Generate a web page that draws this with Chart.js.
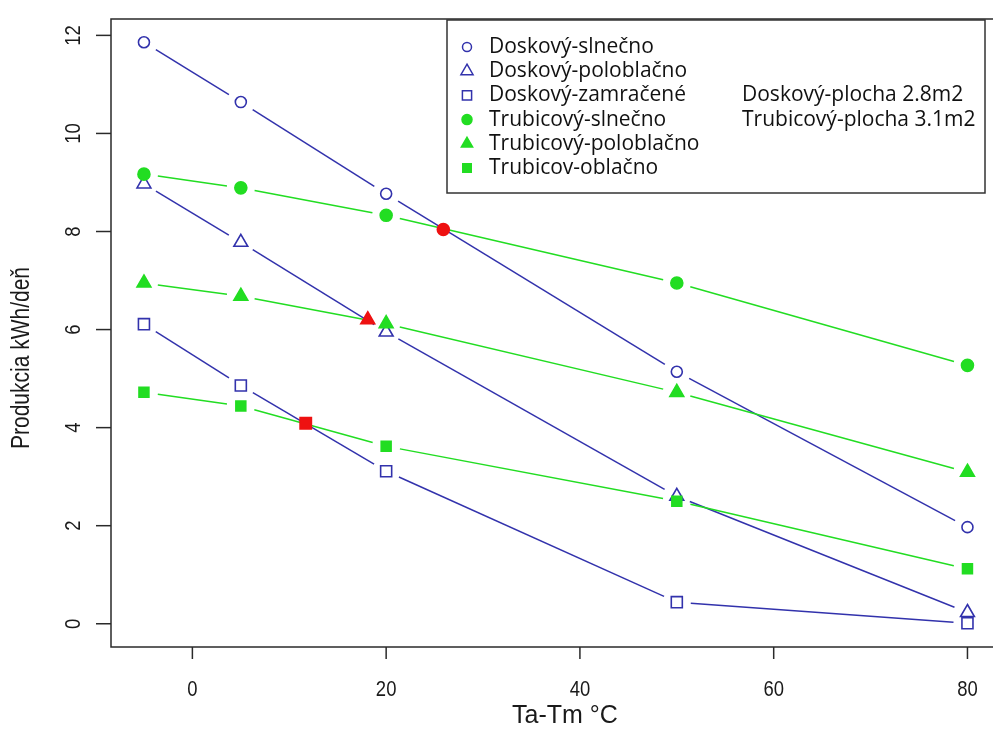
<!DOCTYPE html>
<html>
<head>
<meta charset="utf-8">
<script src="https://cdn.jsdelivr.net/npm/chart.js@4/dist/chart.umd.min.js"></script>
<style>
  html, body { margin: 0; padding: 0; background: #fff; overflow: hidden; }
  #wrap { width: 1010px; height: 729px; }
</style>
</head>
<body>
<div id="wrap"><canvas id="chart" width="1010" height="729"></canvas></div>
<script>
// x values (Ta-Tm) and the six measured series
const xValues = [-5, 5, 20, 50, 80];
const doskovySlnecno = [11.86, 10.64, 8.77, 5.14, 1.97];
const doskovyPolooblacno = [8.97, 7.78, 5.95, 2.6, 0.23];
const doskovyZamracene = [6.11, 4.86, 3.11, 0.44, 0.01];
const trubicovySlnecno = [9.17, 8.89, 8.33, 6.95, 5.27];
const trubicovyPolooblacno = [6.95, 6.68, 6.12, 4.72, 3.09];
const trubicovOblacno = [4.72, 4.44, 3.62, 2.5, 1.12];

// red crossing points
const crossSlnecno = [{ x: 25.9, y: 8.04 }];
const crossPolooblacno = [{ x: 18.1, y: 6.2 }];
const crossOblacno = [{ x: 11.7, y: 4.09 }];

const xTicks = [0, 20, 40, 60, 80];
const yTicks = [0, 2, 4, 6, 8, 10, 12];

const seriesNames = ['Doskový-slnečno', 'Doskový-poloblačno', 'Doskový-zamračené',
  'Trubicový-slnečno', 'Trubicový-poloblačno', 'Trubicov-oblačno'];
const noteLines = ['Doskový-plocha 2.8m2', 'Trubicový-plocha 3.1m2'];

const BLUE = '#3232ac';
const GREEN = '#22dd22';
const RED = '#ee1111';
const GAP = 14;

const pts = vals => vals.map((v, i) => ({ x: xValues[i], y: v }));

// R type="b" look: each segment is dashed so it stops short of both points
function gapDash(c) {
  const len = Math.hypot(c.p1.x - c.p0.x, c.p1.y - c.p0.y);
  return [0, GAP, Math.max(len - 2 * GAP, 0), GAP + 2000];
}

// marker look per series (also used for the legend)
const markers = [
  { style: 'circle', radius: 5.5, fill: '#fff', stroke: BLUE, lr: 4.5 },
  { style: 'triangle', radius: 8, fill: '#fff', stroke: BLUE, lr: 7 },
  { style: 'rect', radius: 7.8, fill: '#fff', stroke: BLUE, lr: 6.5 },
  { style: 'circle', radius: 6, fill: GREEN, stroke: GREEN, lr: 5 },
  { style: 'triangle', radius: 8, fill: GREEN, stroke: GREEN, lr: 6.5 },
  { style: 'rect', radius: 7, fill: GREEN, stroke: GREEN, lr: 6 }
];
const seriesData = [doskovySlnecno, doskovyPolooblacno, doskovyZamracene,
  trubicovySlnecno, trubicovyPolooblacno, trubicovOblacno];

function lineSet(vals, color) {
  return { data: pts(vals), showLine: true, borderColor: color, borderWidth: 1.5,
    pointRadius: 0, segment: { borderDash: gapDash } };
}
function pointSet(data, m) {
  return { data, showLine: false, pointStyle: m.style, pointRadius: m.radius,
    pointBackgroundColor: m.fill, pointBorderColor: m.stroke, pointBorderWidth: 1.6 };
}

// first dataset is drawn on top
const datasets = [
  pointSet(crossSlnecno, { style: 'circle', radius: 6, fill: RED, stroke: RED }),
  pointSet(crossPolooblacno, { style: 'triangle', radius: 8, fill: RED, stroke: RED }),
  pointSet(crossOblacno, { style: 'rect', radius: 8, fill: RED, stroke: RED })
];
for (let i = 5; i >= 0; i--) {
  const color = i < 3 ? BLUE : GREEN;
  datasets.push(pointSet(pts(seriesData[i]), markers[i]));
  datasets.push(lineSet(seriesData[i], color));
}

function narrowText(ctx, text, x, y, rot, sx) {
  ctx.save();
  ctx.translate(x, y);
  if (rot) ctx.rotate(rot);
  ctx.scale(sx, 1);
  ctx.fillText(text, 0, 0);
  ctx.restore();
}

const rStyle = {
  id: 'rStyle',
  afterDraw(chart) {
    const ctx = chart.ctx;
    const a = chart.chartArea;
    const xs = chart.scales.x, ys = chart.scales.y;
    ctx.save();
    // box
    ctx.strokeStyle = '#2a2a2a';
    ctx.lineWidth = 1.5;
    ctx.strokeRect(a.left, a.top, a.right - a.left, a.bottom - a.top);
    // tick marks + labels
    ctx.fillStyle = '#1a1a1a';
    ctx.font = '22px "Liberation Sans", Arial, sans-serif';
    ctx.textAlign = 'center';
    ctx.textBaseline = 'middle';
    xTicks.forEach(v => {
      const px = xs.getPixelForValue(v);
      ctx.beginPath();
      ctx.moveTo(px, a.bottom);
      ctx.lineTo(px, a.bottom + 12);
      ctx.stroke();
      narrowText(ctx, String(v), px, 690, 0, 0.84);
    });
    yTicks.forEach(v => {
      const py = ys.getPixelForValue(v);
      ctx.beginPath();
      ctx.moveTo(a.left, py);
      ctx.lineTo(a.left - 15, py);
      ctx.stroke();
      narrowText(ctx, String(v), 74, py, -Math.PI / 2, 0.84);
    });
    // axis titles
    ctx.font = '25px "Liberation Sans", Arial, sans-serif';
    narrowText(ctx, 'Ta-Tm °C', 565, 716, 0, 1.0);
    narrowText(ctx, 'Produkcia kWh/deň', 22, 358, -Math.PI / 2, 0.84);

    // legend
    const lx = 447, ly = 20, lw = 538, lh = 173;
    ctx.fillStyle = '#fff';
    ctx.fillRect(lx, ly, lw, lh);
    ctx.strokeStyle = '#333';
    ctx.lineWidth = 1.5;
    ctx.strokeRect(lx, ly, lw, lh);
    ctx.font = '21px "Open Sans", sans-serif';
    ctx.textAlign = 'left';
    seriesNames.forEach((name, i) => {
      const m = markers[i];
      const rowY = 47 + i * 24.2;
      ctx.fillStyle = m.fill;
      ctx.strokeStyle = m.stroke;
      ctx.lineWidth = 1.5;
      Chart.helpers.drawPoint(ctx, { pointStyle: m.style, radius: m.lr, borderWidth: 1.5, rotation: 0 }, 467, rowY);
      ctx.fillStyle = '#111';
      ctx.fillText(name, 489, rowY);
    });
    noteLines.forEach((t, i) => {
      ctx.fillText(t, 742, 95.5 + i * 24.2);
    });
    ctx.restore();
  }
};

new Chart(document.getElementById('chart'), {
  type: 'scatter',
  data: { datasets },
  options: {
    responsive: false,
    animation: false,
    layout: { padding: { left: 111, top: 19, right: 4.5, bottom: 82 } },
    plugins: { legend: { display: false }, tooltip: { enabled: false } },
    scales: {
      x: { type: 'linear', min: -8.4, max: 83.4, display: false },
      y: { type: 'linear', min: -0.474, max: 12.334, display: false }
    }
  },
  plugins: [rStyle]
});
</script>
</body>
</html>
